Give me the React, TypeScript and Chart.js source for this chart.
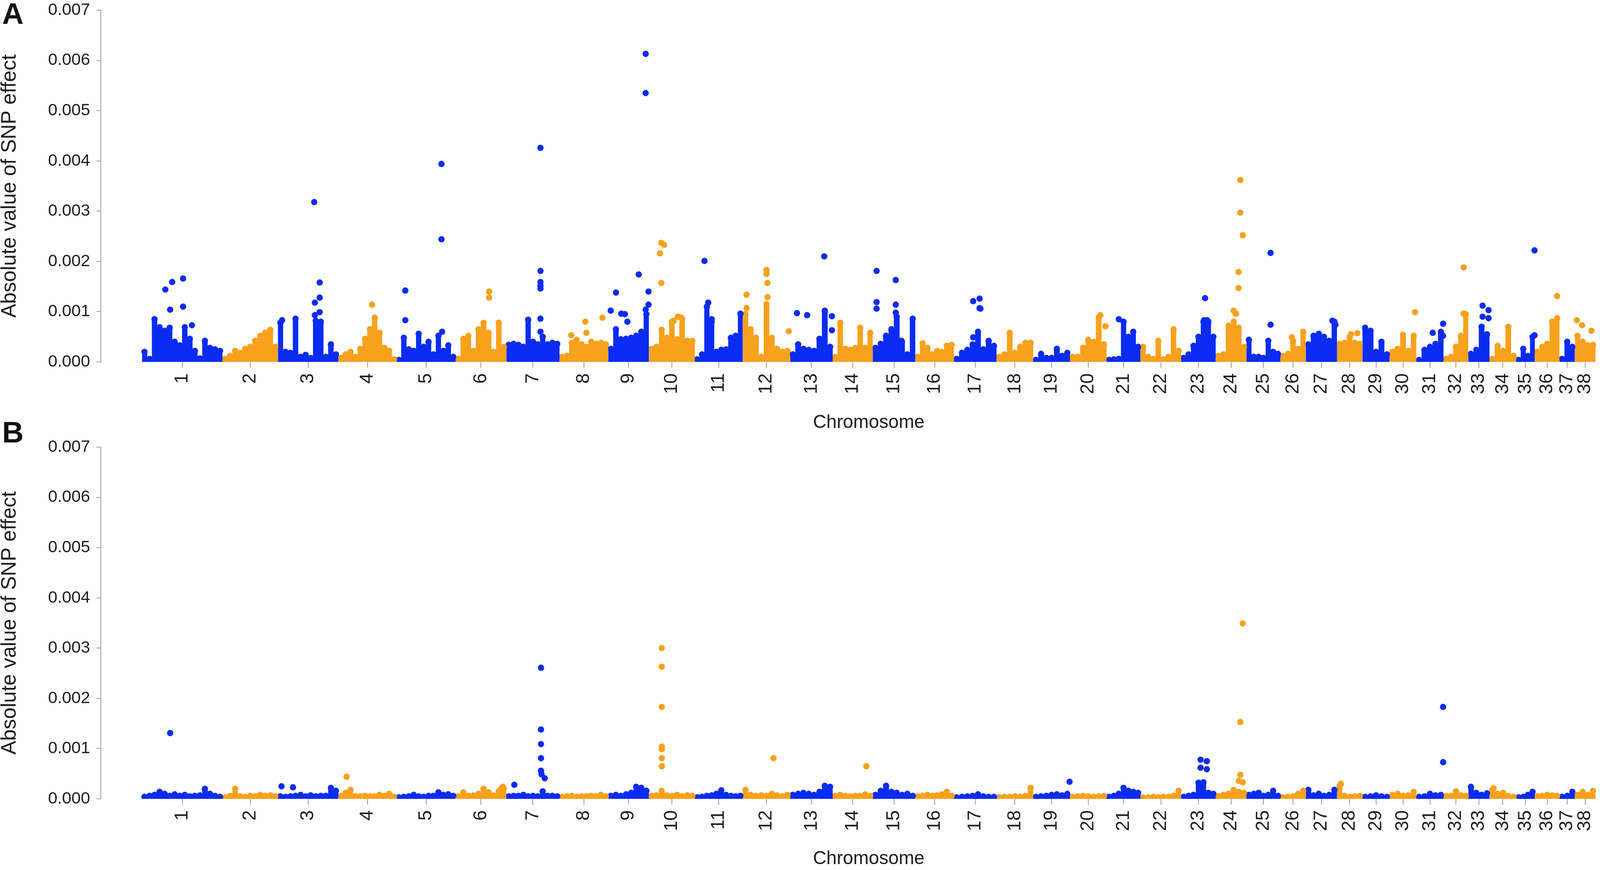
import { useEffect, useRef } from "react";
import { Chart, registerables } from "chart.js";

Chart.register(...registerables);

// chromosome tick labels and (approximate) lengths in Mb
const chromosomes = [
  "1", "2", "3", "4", "5", "6", "7", "8", "9", "10", "11", "12", "13",
  "14", "15", "16", "17", "18", "19", "20", "21", "22", "23", "24", "25",
  "26", "27", "28", "29", "30", "31", "32", "33", "34", "35", "36", "37", "38",
];
const chromLength = [
  121, 83, 91, 87, 89, 76, 80, 73, 61, 69, 72, 71, 64, 60, 64, 58, 64, 55, 55,
  55, 51, 61, 52, 46, 51, 38, 47, 38, 41, 40, 41, 37, 32, 40, 28, 37, 23, 31,
];

// values below are in units of 1e-4 (absolute SNP effect)
const UNIT = 1e-4;

// upper edge of the dense SNP cloud, evenly spaced along each chromosome
const massA = [
  [2.0, 0.6, 8.5, 6.9, 6.2, 6.8, 4.0, 3.3, 6.9, 4.6, 2.2, 0.7, 4.2, 2.8, 2.5, 2.2],
  [0.6, 1.2, 2.2, 1.8, 2.6, 3.0, 4.2, 5.2, 5.8, 6.4, 3.0],
  [7.8, 2.0, 1.8, 8.6, 1.0, 1.4, 0.8, 8.2, 8.0, 1.0, 3.5, 1.5],
  [0.8, 1.5, 2.0, 1.0, 2.6, 4.6, 6.5, 8.8, 5.8, 2.8, 2.2, 0.5],
  [0.4, 4.8, 2.5, 2.2, 5.6, 3.0, 4.0, 1.5, 5.2, 2.2, 3.3, 1.0],
  [0.6, 4.6, 5.2, 2.2, 6.5, 7.8, 5.8, 2.0, 7.8, 3.0],
  [3.4, 3.6, 3.4, 3.0, 8.4, 4.0, 3.5, 5.0, 3.5, 3.8, 3.6],
  [1.0, 1.2, 3.8, 4.4, 3.5, 3.0, 4.0, 3.6, 3.8, 3.5],
  [2.6, 6.5, 4.5, 4.6, 4.8, 5.2, 6.0, 9.5],
  [2.6, 3.0, 6.4, 4.8, 8.0, 4.5, 8.6, 4.2, 4.2],
  [0.5, 1.5, 11.0, 8.0, 2.0, 2.4, 2.5, 4.8, 5.2, 9.6],
  [9.5, 6.5, 4.8, 1.0, 11.5, 4.8, 2.6, 2.0, 2.2],
  [1.5, 3.5, 2.6, 2.4, 2.2, 4.6, 10.2, 3.0],
  [1.0, 7.8, 2.6, 2.4, 2.8, 6.8, 2.8, 5.8],
  [2.8, 3.6, 5.2, 6.5, 9.0, 4.0, 1.5, 8.6],
  [1.0, 3.7, 2.8, 1.5, 2.2, 2.0, 3.2, 3.4],
  [0.6, 1.8, 2.4, 3.5, 6.0, 2.5, 4.2, 3.2],
  [1.0, 1.5, 5.8, 1.8, 3.0, 3.8, 3.8],
  [0.4, 1.6, 0.8, 0.8, 2.6, 1.2, 1.8],
  [1.0, 1.0, 2.8, 4.4, 4.0, 8.8, 3.5],
  [0.4, 0.5, 0.6, 8.0, 5.0, 6.0, 3.0],
  [3.0, 1.0, 0.6, 4.2, 0.5, 1.0, 6.5, 2.2],
  [0.8, 1.5, 3.2, 5.0, 8.0, 8.0, 5.0],
  [1.2, 1.5, 7.2, 8.0, 6.8, 3.0],
  [4.4, 1.0, 1.0, 0.8, 4.2, 2.0, 1.6],
  [1.2, 1.6, 4.2, 2.6, 6.0],
  [3.5, 5.2, 5.6, 5.0, 4.2, 8.0],
  [3.6, 3.8, 5.0, 3.8, 3.6],
  [6.8, 6.2, 2.0, 4.0, 1.5],
  [2.0, 2.6, 5.4, 2.2, 5.2],
  [0.4, 2.4, 3.0, 3.6, 6.0],
  [0.6, 1.0, 3.0, 5.2, 9.5],
  [1.6, 2.4, 7.0, 5.5],
  [0.6, 3.2, 2.2, 7.0, 1.2],
  [0.4, 2.6, 1.2, 5.0],
  [2.0, 3.0, 3.6, 8.0, 8.6],
  [0.6, 4.0, 3.0],
  [5.2, 4.0, 3.3, 3.4],
];

// isolated SNPs: [chromosome, relative position along chromosome, value]
const peaksA = [
  [1, 0.29, 14.4], [1, 0.375, 15.9], [1, 0.51, 16.6], [1, 0.35, 10.4], [1, 0.51, 11.0], [1, 0.62, 7.3],
  [3, 0.6, 31.8], [3, 0.69, 15.8], [3, 0.69, 12.8], [3, 0.61, 11.8], [3, 0.69, 9.9], [3, 0.61, 9.3], [3, 0.07, 8.3],
  [4, 0.58, 11.4],
  [5, 0.15, 14.2], [5, 0.15, 8.3], [5, 0.76, 39.4], [5, 0.76, 24.4], [5, 0.77, 6.0],
  [6, 0.66, 14.0], [6, 0.66, 12.8],
  [7, 0.64, 42.6], [7, 0.64, 18.1], [7, 0.64, 15.9], [7, 0.64, 15.2], [7, 0.64, 14.6], [7, 0.64, 8.6], [7, 0.64, 6.0],
  [8, 0.53, 8.0], [8, 0.88, 8.8], [8, 0.24, 5.3], [8, 0.55, 5.8],
  [9, 0.92, 61.3], [9, 0.92, 53.5], [9, 0.75, 17.4], [9, 0.19, 13.8], [9, 0.99, 14.0], [9, 0.06, 10.2],
  [9, 0.32, 9.6], [9, 0.47, 8.0], [9, 0.92, 10.4], [9, 0.99, 11.4], [9, 0.41, 9.5],
  [10, 0.27, 23.7], [10, 0.33, 23.3], [10, 0.24, 21.6], [10, 0.27, 15.7], [10, 0.54, 8.2], [10, 0.7, 8.8], [10, 0.63, 9.0],
  [11, 0.2, 20.1], [11, 0.28, 11.8], [11, 0.35, 8.5],
  [12, 0.08, 13.4], [12, 0.08, 10.7], [12, 0.5, 18.3], [12, 0.5, 17.5], [12, 0.52, 15.7], [12, 0.52, 12.9], [12, 0.97, 6.1],
  [13, 0.8, 21.0], [13, 0.16, 9.7], [13, 0.4, 9.3], [13, 0.98, 9.1], [13, 0.98, 6.3],
  [15, 0.09, 18.1], [15, 0.54, 16.3], [15, 0.09, 11.9], [15, 0.09, 10.6], [15, 0.54, 11.4], [15, 0.54, 9.8], [15, 0.67, 4.2],
  [17, 0.45, 12.1], [17, 0.6, 12.6], [17, 0.6, 10.7], [17, 0.62, 10.6], [17, 0.45, 4.9],
  [20, 0.83, 9.3], [20, 0.97, 7.1],
  [21, 0.36, 8.5],
  [23, 0.69, 12.7], [23, 0.66, 8.3], [23, 0.75, 8.3],
  [24, 0.8, 36.2], [24, 0.8, 29.7], [24, 0.88, 25.2], [24, 0.74, 17.9], [24, 0.74, 14.7], [24, 0.58, 10.2], [24, 0.66, 9.6],
  [25, 0.71, 21.7], [25, 0.71, 7.4],
  [26, 0.45, 4.9],
  [27, 0.85, 8.2], [27, 0.95, 7.4],
  [28, 0.55, 5.5], [28, 0.8, 5.7],
  [30, 0.95, 9.9],
  [31, 0.98, 7.6], [31, 0.98, 5.2], [31, 0.6, 5.8],
  [32, 0.81, 18.8], [32, 0.81, 9.6],
  [33, 0.67, 11.2], [33, 0.67, 9.0], [33, 0.95, 10.3], [33, 0.95, 8.7],
  [35, 0.98, 22.2], [35, 0.98, 5.3],
  [36, 0.9, 13.1], [36, 0.9, 8.7],
  [38, 0.1, 8.3], [38, 0.35, 7.3], [38, 0.8, 6.2],
];

const massB = [
  [0.4, 0.6, 0.8, 1.4, 1.0, 0.6, 0.9, 0.6, 0.8, 0.5, 0.6, 0.7, 2.0, 1.0, 0.6, 0.4],
  [0.3, 0.6, 2.0, 0.5, 0.4, 0.6, 0.5, 0.8, 0.6, 0.7, 0.5],
  [0.5, 0.4, 0.5, 0.6, 0.8, 0.5, 0.7, 0.5, 0.6, 0.6, 2.2, 1.6],
  [0.6, 1.2, 1.8, 0.5, 0.5, 0.6, 0.5, 0.5, 0.8, 0.6, 1.0, 0.4],
  [0.3, 0.4, 0.5, 0.8, 0.5, 0.4, 0.6, 0.6, 1.3, 0.8, 0.9, 0.6],
  [0.5, 1.3, 0.6, 0.7, 1.0, 2.0, 1.3, 0.7, 1.5, 2.0],
  [0.5, 0.6, 0.6, 0.8, 0.5, 0.6, 0.5, 1.5, 0.6, 0.6, 0.5],
  [0.4, 0.5, 0.6, 0.4, 0.5, 0.5, 0.6, 0.5, 0.8, 0.5],
  [0.6, 0.8, 0.6, 0.9, 1.2, 2.4, 2.2, 1.6],
  [0.6, 0.7, 1.6, 0.7, 0.6, 0.8, 0.5, 0.7, 0.6],
  [0.3, 0.4, 0.6, 0.7, 1.0, 1.7, 0.8, 0.6, 0.5, 0.6],
  [1.8, 0.8, 0.6, 0.7, 0.6, 1.0, 0.7, 0.5, 0.8],
  [0.8, 1.0, 1.2, 1.0, 0.8, 1.4, 2.6, 2.4],
  [0.6, 0.8, 0.6, 0.5, 0.6, 0.6, 0.9, 0.6],
  [0.8, 1.6, 2.6, 1.4, 1.2, 0.8, 1.0, 0.6],
  [0.5, 0.6, 0.8, 0.6, 0.7, 0.9, 1.4, 0.6],
  [0.3, 0.4, 0.5, 0.6, 0.9, 0.5, 0.4, 0.4],
  [0.3, 0.4, 0.4, 0.5, 0.4, 0.6, 2.2],
  [0.4, 0.5, 0.6, 0.8, 0.9, 0.7, 1.0],
  [0.4, 0.5, 0.6, 0.5, 0.4, 0.5, 0.6],
  [0.4, 0.6, 1.0, 2.2, 1.6, 1.4, 1.2],
  [0.3, 0.3, 0.4, 0.3, 0.4, 0.4, 0.6, 1.6],
  [0.4, 0.6, 0.8, 3.2, 3.3, 1.2, 1.0],
  [0.5, 0.8, 1.0, 1.8, 1.4, 1.2],
  [0.8, 1.0, 1.2, 0.6, 0.8, 1.6, 0.6],
  [0.3, 0.4, 0.5, 1.0, 1.6],
  [1.8, 0.7, 1.0, 0.6, 0.8, 1.8],
  [2.6, 0.6, 0.4, 0.5, 0.6],
  [0.4, 0.5, 0.7, 0.5, 0.4],
  [0.8, 1.0, 0.6, 0.7, 1.4],
  [0.4, 0.5, 1.0, 0.7, 0.8],
  [0.5, 0.6, 1.5, 0.7, 0.6],
  [2.4, 1.2, 0.8, 1.1],
  [1.8, 1.0, 1.2, 0.6, 0.4],
  [0.3, 0.4, 0.8, 1.4],
  [0.5, 0.6, 0.8, 0.7, 0.6],
  [0.4, 0.6, 1.4],
  [0.8, 1.4, 0.8, 1.6],
];

const peaksB = [
  [1, 0.35, 13.1],
  [3, 0.06, 2.5], [3, 0.25, 2.3],
  [4, 0.14, 4.4],
  [6, 0.93, 2.4], [6, 0.9, 2.0],
  [7, 0.15, 2.8], [7, 0.65, 26.1], [7, 0.65, 13.8], [7, 0.65, 10.9], [7, 0.65, 8.1], [7, 0.65, 5.6], [7, 0.66, 4.9], [7, 0.72, 4.1],
  [10, 0.28, 30.0], [10, 0.28, 26.3], [10, 0.28, 18.3], [10, 0.28, 10.4], [10, 0.28, 9.9], [10, 0.28, 8.1], [10, 0.28, 6.5],
  [12, 0.65, 8.1],
  [14, 0.84, 6.5],
  [19, 0.99, 3.4],
  [23, 0.56, 7.8], [23, 0.56, 6.2], [23, 0.74, 7.5], [23, 0.74, 5.9],
  [24, 0.8, 4.8], [24, 0.75, 3.6], [24, 0.88, 3.3], [24, 0.88, 34.9], [24, 0.8, 15.3],
  [28, 0.15, 3.0],
  [31, 0.98, 18.3], [31, 0.98, 7.3],
  [34, 0.15, 2.1],
];

const BLUE = "#0a2cf2";
const ORANGE = "#f8a11c";
const AXIS = "#9c9c9c";
const TEXT = "#1e1e1e";
const FONT = "'Liberation Sans', Arial, sans-serif";

// the figure was laid out for a 4562 x 2226 page; everything is scaled to the real window
const REF_W = 4562;
const REF_H = 2226;

const chromStart: number[] = [];
let acc = 0;
chromLength.forEach((l) => {
  chromStart.push(acc);
  acc += l;
});
const totalLength = acc;
const chromMid = chromLength.map((l, i) => chromStart[i] + l / 2);

const colorOf = (i: number) => (i % 2 === 0 ? BLUE : ORANGE);

function buildDatasets(mass: number[][], peaks: number[][], radius: number) {
  const peakSet = (parity: number) => ({
    type: "scatter" as const,
    data: peaks
      .filter((p) => (p[0] - 1) % 2 === parity)
      .map(([c, f, v]) => ({ x: chromStart[c - 1] + f * chromLength[c - 1], y: v * UNIT })),
    pointRadius: radius,
    pointBackgroundColor: parity ? ORANGE : BLUE,
    pointBorderWidth: 0,
    showLine: false,
  });

  const massSets = mass.map((vals, i) => {
    const len = chromLength[i];
    const step = len / vals.length;
    const pts = vals.map((v, k) => ({ x: chromStart[i] + (k + 0.5) * step, y: v * UNIT }));
    const data = [
      { x: chromStart[i], y: vals[0] * UNIT },
      ...pts,
      { x: chromStart[i] + len, y: vals[vals.length - 1] * UNIT },
    ];
    const last = data.length - 1;
    return {
      type: "line" as const,
      data,
      stepped: "middle" as const,
      fill: "origin",
      backgroundColor: colorOf(i),
      borderColor: colorOf(i),
      borderWidth: 1,
      pointRadius: (ctx: any) => (ctx.dataIndex === 0 || ctx.dataIndex === last ? 0 : radius),
      pointBackgroundColor: colorOf(i),
      pointBorderWidth: 0,
    };
  });

  return [peakSet(0), peakSet(1), ...massSets];
}

interface PanelProps {
  mass: number[][];
  peaks: number[][];
  height: number;
  titleOffset: number;
  sx: number;
  sy: number;
}

const Panel: React.FC<PanelProps> = ({ mass, peaks, height, titleOffset, sx, sy }) => {
  const chartRef = useRef<HTMLCanvasElement>(null);

  useEffect(() => {
    if (!chartRef.current) return;
    const ctx = chartRef.current.getContext("2d");
    if (!ctx) return;

    const plotBottom = 926 * sy;

    // x-axis title is centred on the data range, as in the original figure
    const xTitle = {
      id: "xTitle",
      afterDraw(chart: any) {
        const c = chart.ctx;
        const x = chart.scales.x.getPixelForValue(totalLength / 2);
        c.save();
        c.font = `${53 * sx}px ${FONT}`;
        c.fillStyle = TEXT;
        c.textAlign = "center";
        c.textBaseline = "middle";
        c.fillText("Chromosome", x, chart.chartArea.bottom + titleOffset * sy);
        c.restore();
      },
    };

    const yTitleSize = 53 * sy;

    const chart = new Chart(ctx, {
      type: "scatter",
      data: { datasets: buildDatasets(mass, peaks, (8.5 * (sx + sy)) / 2) as any },
      options: {
        animation: false,
        responsive: true,
        maintainAspectRatio: false,
        layout: { padding: { left: 0, right: 4 * sx, top: 0, bottom: 0 } },
        plugins: { legend: { display: false }, tooltip: { enabled: false } },
        scales: {
          x: {
            type: "linear",
            min: -62,
            max: totalLength + 2,
            afterBuildTicks: (scale: any) => {
              scale.ticks = chromMid.map((v) => ({ value: v }));
            },
            afterFit: (scale: any) => {
              scale.height = height - plotBottom;
              scale.paddingLeft = 0;
              scale.paddingRight = 0;
            },
            ticks: {
              autoSkip: false,
              minRotation: 90,
              maxRotation: 90,
              padding: 14 * sy,
              color: TEXT,
              font: { family: FONT, size: 48 * sy },
              callback: (_v: any, i: number) => chromosomes[i],
            },
            grid: { drawOnChartArea: false, tickLength: 15 * sy, color: AXIS, lineWidth: 2 },
            border: { display: false },
          },
          y: {
            min: 0,
            max: 0.007,
            afterFit: (scale: any) => {
              scale.width = 287 * sx;
              scale.paddingTop = 26 * sy;
            },
            ticks: {
              stepSize: 0.001,
              padding: 18 * sx,
              color: TEXT,
              font: { family: FONT, size: 48 * sx },
              callback: (v: any) => Number(v).toFixed(3),
            },
            grid: { drawOnChartArea: false, tickLength: 12 * sx, color: AXIS, lineWidth: 2 },
            border: { display: true, color: AXIS, width: 2 },
            title: {
              display: true,
              text: "Absolute value of SNP effect",
              color: TEXT,
              font: { family: FONT, size: yTitleSize, lineHeight: (56 * sx) / yTitleSize },
              padding: { top: 0, bottom: 0 },
            },
          },
        },
      },
      plugins: [xTitle],
    });

    return () => {
      chart.destroy();
    };
  }, [mass, peaks, height, titleOffset, sx, sy]);

  return (
    <div style={{ position: "relative", width: "100%", height }}>
      <canvas ref={chartRef} />
    </div>
  );
};

export default function App() {
  const w = window.innerWidth || REF_W;
  const h = window.innerHeight || REF_H;
  const sx = w / REF_W;
  const sy = h / REF_H;

  const letterStyle: React.CSSProperties = {
    position: "absolute",
    left: 6 * sx,
    fontFamily: FONT,
    fontWeight: "bold",
    fontSize: 76 * sy,
    lineHeight: `${76 * sy}px`,
    color: "#111",
  };

  return (
    <div style={{ position: "fixed", left: 0, top: 0, width: w, height: h, background: "#fff", overflow: "hidden" }}>
      <div style={{ position: "absolute", left: 0, top: 0, width: "100%" }}>
        <Panel mass={massA} peaks={peaksA} height={1118 * sy} titleOffset={156} sx={sx} sy={sy} />
      </div>
      <div style={{ position: "absolute", left: 0, top: 1118 * sy, width: "100%" }}>
        <Panel mass={massB} peaks={peaksB} height={1108 * sy} titleOffset={154} sx={sx} sy={sy} />
      </div>
      <div style={{ ...letterStyle, top: -3 * sy }}>A</div>
      <div style={{ ...letterStyle, top: 1068 * sy }}>B</div>
    </div>
  );
}
